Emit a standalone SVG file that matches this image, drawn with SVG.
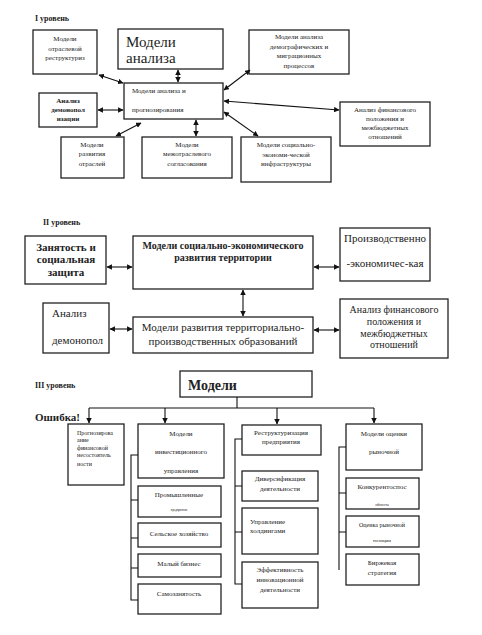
<svg xmlns="http://www.w3.org/2000/svg" width="482" height="635" viewBox="0 0 482 635">
<defs>
<marker id="ah" viewBox="0 0 10 10" refX="9" refY="5" markerWidth="5" markerHeight="5" orient="auto-start-reverse"><path d="M0,0 L10,5 L0,10 z" fill="#111"/></marker>
<style>
.b{fill:#fff;stroke:#222;stroke-width:1.3}
text{font-family:"Liberation Serif","Times New Roman",serif;fill:#222}
.t7{font-size:7px}
.t6{font-size:6px}
.t8{font-size:8px}
.t10{font-size:10px}
.t11{font-size:11px}
.bd{font-weight:bold}
.c{text-anchor:middle}
.ln{stroke:#111;stroke-width:1.1;fill:none}
.da{stroke:#111;stroke-width:1.1;fill:none;marker-start:url(#ah);marker-end:url(#ah)}
.sa{stroke:#111;stroke-width:1.1;fill:none;marker-end:url(#ah)}
</style>
</defs>
<rect width="482" height="635" fill="#fff"/>

<text x="35" y="21" class="t8 bd">I уровень</text>
<text x="43" y="225" class="t8 bd">II уровень</text>
<text x="35" y="388" class="t8 bd">III уровень</text>
<text x="35" y="421" class="t11 bd">Ошибка!</text>

<g id="n1"><rect class="b" x="33" y="30" width="64" height="44"/><text class="t7 c" x="65" y="41">Модели</text><text class="t7 c" x="65" y="51">отраслевой</text><text class="t7 c" x="65" y="60">реструктуриз</text></g>
<g id="n2"><rect class="b" x="118" y="29" width="105" height="40"/><text x="126" y="47" style="font-size:15px">Модели</text><text x="126" y="63" style="font-size:15px">анализа</text></g>
<g id="n3"><rect class="b" x="124" y="83" width="99" height="36"/><text class="t7" x="132" y="93">Модели анализа и</text><text class="t7" x="132" y="112">прогнозирования</text></g>
<g id="n4"><rect class="b" x="249" y="30" width="100" height="44"/><text class="t7 c" x="299" y="39">Модели анализа</text><text class="t7 c" x="299" y="49">демографических и</text><text class="t7 c" x="299" y="58">миграционных</text><text class="t7 c" x="299" y="68">процессов</text></g>
<g id="n5"><rect class="b" x="39" y="93" width="58" height="34"/><text class="t7 c bd" x="68" y="103">Анализ</text><text class="t7 c bd" x="68" y="112">демонопол</text><text class="t7 c bd" x="68" y="121">изации</text></g>
<g id="n6"><rect class="b" x="61" y="137" width="63" height="41"/><text class="t7 c" x="92" y="147">Модели</text><text class="t7 c" x="92" y="156">развития</text><text class="t7 c" x="92" y="166">отраслей</text></g>
<g id="n7"><rect class="b" x="142" y="137" width="90" height="41"/><text class="t7 c" x="187" y="147">Модели</text><text class="t7 c" x="187" y="156">межотраслевого</text><text class="t7 c" x="187" y="166">согласования</text></g>
<g id="n8"><rect class="b" x="340" y="102" width="90" height="44"/><text class="t7 c" x="385" y="112">Анализ финансового</text><text class="t7 c" x="385" y="121">положения  и</text><text class="t7 c" x="385" y="130">межбюджетных</text><text class="t7 c" x="385" y="139">отношений</text></g>
<g id="n9"><rect class="b" x="241" y="137" width="90" height="45"/><text class="t7 c" x="286" y="147">Модели социально-</text><text class="t7 c" x="286" y="157">экономи-ческой</text><text class="t7 c" x="286" y="166">инфраструктуры</text></g>

<g id="n10"><rect class="b" x="25" y="236" width="81" height="48"/><text class="t11 c bd" x="66" y="251">Занятость и</text><text class="t11 c bd" x="66" y="263">социальная</text><text class="t11 c bd" x="66" y="276">защита</text></g>
<g id="n11"><rect class="b" x="133" y="236" width="180" height="53"/><text class="t10 c bd" x="223" y="249">Модели социально-экономического</text><text class="t10 c bd" x="223" y="261">развития территории</text></g>
<g id="n12"><rect class="b" x="340" y="228" width="90" height="53"/><text class="t11 c" x="385" y="242">Производственно</text><text class="t11 c" x="385" y="267">-экономичес-кая</text></g>
<g id="n13"><rect class="b" x="43" y="303" width="66" height="50"/><text class="t11" x="52" y="317">Анализ</text><text class="t11" x="52" y="344">демонопол</text></g>
<g id="n14"><rect class="b" x="133" y="317" width="180" height="36"/><text class="t11 c" x="223" y="331">Модели развития территориально-</text><text class="t11 c" x="223" y="345">производственных образований</text></g>
<g id="n15"><rect class="b" x="340" y="299" width="108" height="59"/><text class="t10 c" x="394" y="313">Анализ финансового</text><text class="t10 c" x="394" y="325">положения  и</text><text class="t10 c" x="394" y="337">межбюджетных</text><text class="t10 c" x="394" y="348">отношений</text></g>

<g id="n16"><rect class="b" x="180" y="371" width="132" height="26"/><text x="188" y="390" style="font-size:14px;font-weight:bold">Модели</text></g>
<g id="n17"><rect class="b" x="68" y="424" width="56" height="61"/><text class="t6" x="77" y="435">Прогнозирова</text><text class="t6" x="77" y="442">ание</text><text class="t6" x="77" y="450">финансовой</text><text class="t6" x="77" y="457">несостоятель</text><text class="t6" x="77" y="466">ности</text></g>
<g id="n18"><rect class="b" x="138" y="424" width="86" height="54"/><text class="t7 c" x="181" y="436">Модели</text><text class="t7 c" x="181" y="454">инвестиционного</text><text class="t7 c" x="181" y="473">управления</text></g>
<g id="n19"><rect class="b" x="138" y="486" width="83" height="31"/><text class="t7 c" x="179" y="497">Промышленные</text><text class="c" x="179" y="511" style="font-size:3px">предприятия</text></g>
<g id="n20"><rect class="b" x="138" y="523" width="83" height="24"/><text class="t7 c" x="179" y="536">Сельское хозяйство</text></g>
<g id="n21"><rect class="b" x="138" y="554" width="83" height="23"/><text class="t7 c" x="179" y="566">Малый бизнес</text></g>
<g id="n22"><rect class="b" x="138" y="584" width="83" height="30"/><text class="t7 c" x="179" y="596">Самозанятость</text></g>
<g id="n23"><rect class="b" x="242" y="425" width="79" height="30"/><text class="t7 c" x="281" y="435">Реструктуризация</text><text class="t7 c" x="281" y="444">предприятия</text></g>
<g id="n24"><rect class="b" x="242" y="471" width="76" height="30"/><text class="t7 c" x="280" y="481">Диверсификация</text><text class="t7 c" x="280" y="491">деятельности</text></g>
<g id="n25"><rect class="b" x="242" y="508" width="76" height="46"/><text class="t7" x="250" y="524">Управление</text><text class="t7" x="250" y="533">холдингами</text></g>
<g id="n26"><rect class="b" x="242" y="562" width="76" height="46"/><text class="t7 c" x="280" y="572">Эффективность</text><text class="t7 c" x="280" y="582">инновационной</text><text class="t7 c" x="280" y="592">деятельности</text></g>
<g id="n27"><rect class="b" x="346" y="424" width="76" height="46"/><text class="t7 c" x="384" y="436">Модели оценки</text><text class="t7 c" x="384" y="454">рыночной</text></g>
<g id="n28"><rect class="b" x="346" y="478" width="73" height="31"/><text class="t7 c" x="382" y="489">Конкурентоспос</text><text class="c" x="382" y="506" style="font-size:4px">обность</text></g>
<g id="n29"><rect class="b" x="346" y="516" width="73" height="31"/><text class="c" x="382" y="527" style="font-size:6px">Оценка рыночной</text><text class="c" x="382" y="542" style="font-size:5px">позиции</text></g>
<g id="n30"><rect class="b" x="346" y="554" width="73" height="31"/><text class="t7 c" x="382" y="565">Биржевая</text><text class="t7 c" x="382" y="575">стратегия</text></g>

<g id="connectors">
<line class="da" x1="99" y1="75" x2="123" y2="83"/>
<line class="da" x1="178" y1="70" x2="178" y2="82"/>
<line class="da" x1="224" y1="90" x2="250" y2="70"/>
<line class="da" x1="98" y1="110" x2="123" y2="110"/>
<line class="da" x1="116" y1="136" x2="141" y2="123"/>
<line class="da" x1="196" y1="120" x2="196" y2="136"/>
<line class="da" x1="224" y1="101" x2="339" y2="110"/>
<line class="da" x1="224" y1="112" x2="258" y2="136"/>
<line class="da" x1="107" y1="267" x2="132" y2="267"/>
<line class="da" x1="314" y1="267" x2="339" y2="267"/>
<line class="da" x1="243" y1="290" x2="243" y2="316"/>
<line class="da" x1="110" y1="329" x2="132" y2="329"/>
<line class="da" x1="314" y1="330" x2="339" y2="330"/>
<line class="ln" x1="237" y1="397" x2="237" y2="408"/>
<line class="ln" x1="89" y1="408" x2="374" y2="408"/>
<line class="sa" x1="89" y1="408" x2="89" y2="423"/>
<line class="sa" x1="165" y1="408" x2="165" y2="423"/>
<line class="sa" x1="277" y1="408" x2="277" y2="424"/>
<line class="sa" x1="374" y1="408" x2="374" y2="423"/>
<path class="ln" d="M138,455 H131 V600 H138 M131,500 H138 M131,538 H138 M131,568 H138"/>
<path class="ln" d="M242,439 H235 V584 H242 M235,486 H242 M235,532 H242"/>
<path class="ln" d="M346,447 H339 V570 M339,493 H346 M339,532 H346"/>
</g>
</svg>
